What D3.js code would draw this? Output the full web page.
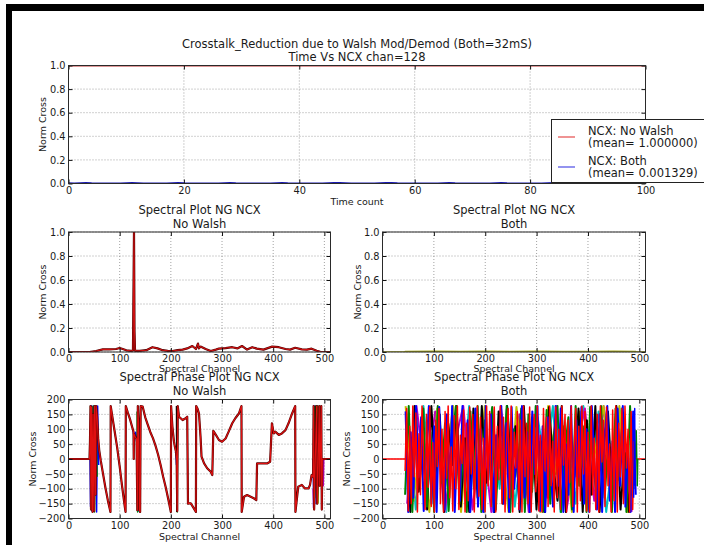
<!DOCTYPE html>
<html lang="en">
<head>
<meta charset="UTF-8">
<title>Crosstalk Reduction - Walsh Mod/Demod</title>
<script src="https://d3js.org/d3.v7.min.js"></script>
<style>
  body { margin: 0; background: #fff; }
  svg { display: block; font-family: "DejaVu Sans", sans-serif; }
</style>
</head>
<body>
<svg id="fig" width="704" height="545"></svg>
<script>
// ---- data ----
const timeTicks = [0, 20, 40, 60, 80, 100]
const normTicks = [0, 0.2, 0.4, 0.6, 0.8, 1.0]
const chanTicks = [0, 100, 200, 300, 400, 500]
const phaseTicks = [-200, -150, -100, -50, 0, 50, 100, 150, 200]

// time plot, chan 128
const timeCount = d3.range(0, 101)
const ncxNoWalsh = [1,1,1,1,1,1,1,1,1,1,1,1,1,1,1,1,1,1,1,1,1,1,1,1,1,1,1,1,1,1,1,1,1,1,1,1,1,1,1,1,1,1,1,1,1,1,1,1,1,1,
  1,1,1,1,1,1,1,1,1,1,1,1,1,1,1,1,1,1,1,1,1,1,1,1,1,1,1,1,1,1,1,1,1,1,1,1,1,1,1,1,1,1,1,1,1,1,1,1,1,1,1]
const ncxBoth = [0.002,0.001,0.004,0.005,0.002,0.001,0.0005,0.0005,0.001,0.001,0.004,0.005,0.004,0.001,0.0005,0.0005,0.0005,0.001,0.003,0.005,
  0.002,0.001,0.0005,0.0005,0.0005,0.0005,0.001,0.003,0.005,0.002,0.001,0.0005,0.0005,0.0005,0.0005,0.001,0.003,0.005,0.002,0.001,
  0.0005,0.0005,0.0005,0.0005,0.001,0.003,0.005,0.005,0.003,0.001,0.0005,0.0005,0.0005,0.001,0.003,0.005,0.005,0.002,0.001,0.0005,
  0.0005,0.0005,0.0005,0.0005,0.001,0.003,0.005,0.002,0.001,0.0005,0.0005,0.0005,0.0005,0.001,0.003,0.005,0.002,0.001,0.0005,0.0005,
  0.0005,0.0005,0.001,0.003,0.005,0.002,0.001,0.0005,0.0005,0.0005,0.0005,0.001,0.003,0.005,0.002,0.001,0.0005,0.0005,0.0005,0.001,0.001]
const legendMeans = ["1.000000", "0.001329"]

// amplitude spectrum, no walsh
const specNwCh  = [0, 41, 54, 67, 80, 93, 100, 106, 113, 122, 126, 128, 129, 130, 139, 152, 164, 174, 184, 194, 203, 213, 223, 232, 242, 249, 253, 255, 258, 268,
  278, 288, 294, 307, 320, 330, 339, 349, 359, 368, 381, 398, 411, 424, 433, 443, 456, 466, 475, 485, 492, 512]
const specNwVal = [0, 0, 0.008, 0.022, 0.022, 0.025, 0.033, 0.025, 0.014, 0.01, 0.012, 1.0, 0.17, 0.01, 0.01, 0.015, 0.04, 0.03, 0.015, 0.01, 0.008, 0.015, 0.02, 0.03, 0.05, 0.025, 0.07, 0.03, 0.045, 0.025,
  0.008, 0.02, 0.028, 0.033, 0.04, 0.03, 0.05, 0.02, 0.04, 0.028, 0.02, 0.045, 0.04, 0.025, 0.02, 0.035, 0.022, 0.02, 0.028, 0.01, 0.002, 0]

// amplitude spectrum, both
const specBothCh  = [0, 43, 44, 100, 150, 200, 250, 300, 350, 400, 450, 493, 494, 512]
const specBothVal = [0, 0, 0.004, 0.005, 0.004, 0.005, 0.004, 0.005, 0.004, 0.004, 0.005, 0.004, 0, 0]

// phase spectrum, no walsh (main trace)
const phaseNwCh = [0, 41, 42, 43, 44, 45, 47, 48, 50, 51, 53, 54, 56, 58, 60, 63, 67, 72, 77, 82, 82.5, 85, 90, 95, 100, 105, 110, 111.5,
  112, 116, 120, 124, 127, 127.5, 128, 131, 133, 134.5, 135.5, 137, 138.5, 140, 141, 145, 150, 155, 160, 165, 170, 175, 180, 185, 190, 195, 200,
  200.5, 203, 206, 208, 210, 211.5, 212.5, 213.5, 216, 223, 229, 232, 233.5, 236, 239, 245, 249, 249.5, 252, 255, 258, 260, 265, 271, 278, 281,
  283, 288, 294, 300, 307, 313, 320, 326, 333, 338, 338.5, 343, 349, 356, 362, 367, 368.5, 378, 388, 394, 397.5, 401, 404, 411, 417, 424, 430, 437, 443,
  443.5, 446, 449, 456, 462, 469, 472, 475, 478, 479, 480, 482, 485, 486, 488, 490, 491, 492, 494, 495, 496, 512]
const phaseNwVal = [0, 0, 60, 178, -170, 175, -178, 150, -175, 178, -120, 178, 140, 70, 30, -5, -45, -95, -140, -178, 178, 150, 95, 40, -25, -95, -160, -178,
  178, 155, 135, 110, 92, 0, 85, 72, 68, -172, 178, 120, -172, -178, 178, 176, 140, 115, 90, 70, 45, 15, -20, -60, -95, -135, -178,
  178, 110, 60, 40, 25, -5, -175, 178, 142, 131, 137, 142, -150, -149, -149, -166, -178, 178, 170, 153, 75, 8, -15, -31, -43, -54,
  95, 81, 64, 58, 69, 92, 120, 137, 153, 178, -178, -127, -121, -127, -132, -138, -15, -15, -15, -9, 120, 86, 92, 81, 86, 97, 120, 153, 178,
  -178, -138, -93, -87, -99, -99, -87, -54, -60, 178, -170, -26, 178, -150, -15, 178, -90, -3, 178, -170, 0, 0]

// phase spectrum, no walsh: other time samples showing at the wraps
const phaseNwExtra = [
  { color: "#0000ff", pts: [[42, 0], [43, -160], [45, 178], [46, -175], [49, 178], [50, -170], [52, 160], [55, -178], [57, 178], [59, -20]] },
  { color: "#0000ff", pts: [[126, 100], [129, 60], [131, 90], [133, 70]] },
  { color: "#0000ff", pts: [[209, 20], [210, 30], [211, -20]] },
  { color: "#0000ff", pts: [[478, 0], [479, -165], [481, 178], [484, -150], [486, 178], [489, -90]] },
  { color: "#008000", pts: [[44, 178], [46, -150], [48, 178], [51, -178], [53, 178], [56, -60]] },
  { color: "#008000", pts: [[134, 160], [135, -178], [136, 178]] },
  { color: "#008000", pts: [[212, 178], [212.5, -178], [213, 100]] },
  { color: "#008000", pts: [[480, 178], [481, -130], [483, 178], [485, -100], [487, 178], [490, -80]] },
  { color: "#00bfbf", pts: [[136, 178], [137, -178]] },
  { color: "#bfbf00", pts: [[43, 178], [45, 60]] },
  { color: "#bfbf00", pts: [[487, 178], [488, -150]] },
  { color: "#bf00bf", pts: [[478, -100], [479, -165], [480, 0]] },
  { color: "#bf00bf", pts: [[497, 0], [498, -90], [499, 0]] },
  { color: "#000000", pts: [[211, 178], [211.5, -178]] },
  { color: "#000000", pts: [[483, -80], [484, 178], [485, -100]] },
  { color: "#000000", pts: [[490, 178], [491, -85], [492, 0]] }
]

// phase spectrum, both: one wrapped noisy trace per colour
const phaseBoth = [
  { color: "#00bfbf", from: 50, to: 480, vals: [120, -170, 178, -90, 60, -178, 150, -130, 178, -40, -178, 170, -100, 178, -160, 80, -178, 140, -20, 178, -178, 100, -150, 178, -60, 160, -178, 30, 170, -120] },
  { color: "#bf00bf", from: 48, to: 485, vals: [-150, 178, -80, 160, -178, 40, 178, -170, 110, -178, 178, -60, 150, -178, 90, -130, 178, -178, 20, 170, -140, 178, -100, 130, -178] },
  { color: "#bfbf00", from: 45, to: 492, vals: [178, -140, 90, -178, 170, -30, 178, -178, 130, -100, 178, -160, 60, -178, 175, -80, 150, -178, 178, -50, 110, -178, 160, -170, 40, 178, -130, 178, -178, 100] },
  { color: "#000000", from: 46, to: 488, vals: [90, -178, 178, -110, 40, -170, 178, -60, 150, -178, 120, -20, 178, -160, 70, -178, 170, -130, 178, -80,
    30, -178, 160, -150, 178, -40, 110, -178, 178, -100, 140, -170, 60, -178, 175, -20, -140, 178, -178, 90,
    -60, 170, -178, 130, -120, 178, -178, 50, 160, -90, 178, -170, 20, -178, 140] },
  { color: "#008000", from: 44, to: 489, vals: [-120, 178, -178, 140, -40, 170, -160, 90, -178, 178, -80, 120, -175, 60, 178, -150, 10, -178, 160, -100,
    178, -178, 130, -20, 175, -170, 70, -130, 178, -178, 100, -60, 170, -178, 150, -110, 178, -40, -178, 165,
    -150, 80, 178, -178, 20, 140, -170, 178, -90, 110, -178, 175, -30, -160, 178, -130, 60, -178, 170, -70,
    150, -178, 178, -100] },
  { color: "#0000ff", from: 45, to: 493, vals: [160, -178, 90, -130, 178, -60, 140, -175, 30, 178, -150, 110, -178, 175, -20, -170, 150, -90, 178, -178,
    60, -140, 178, -110, 130, -178, 20, 170, -160, 100, -178, 178, -70, 150, -178, 80, -30, 178, -150, 120,
    -178, 175, -100, 40, -170, 178, -130, 90, -178, 160, -50, 178, -175, 110, -178, 140, -20, -160, 178, -90,
    170, -178, 50, -120, 178, -178, 130, -60, 175, -150, 100, -178, 178, -10, -170, 150, -178, 80, 178, -140,
    60, -178, 170, -90, 178, -160, 30, -178, 160, -120] },
  { color: "#ff0000", from: 44, to: 490, vals: [-40, 170, -175, 110, -150, 178, -60, 155, -178, 85, -120, 178, 15, -170, 150, -95, 175, -160, 55, -178,
    130, -25, 170, -150, 100, -178, 160, -65, 178, -130, 40, -175, 145, -100, 178, -170, 80, -15, 165, -178,
    120, -140, 175, -50, 150, -178, 30, 178, -125, 140, -170, 70, -178, 178, -90, 160, -160, 10, 175, -178,
    110, -70, 178, -150, 140, -178, 50, 170, -130, 178, -178, 90, -30, 160, -170, 130, -178, 178, -60, 120,
    -150, 175, -178, 20, 150, -110, 178, -175, 80, -178, 170, -40, 140, -160, 178, -90, 60, -178, 175, -130,
    100, -170, 178, -20, 150, -178, 130, -80, 178, -160, 40, 170, -178, 110, -140, 178, -50, 160, -175, 90,
    -178, 178, -120, 70, -170, 150, -178, 178, -10, 130, -160, 175, -90, 50, -178, 165, -140, 178, -178, 120,
    -60, 170, -150, 178, -30, 100, -178, 160, -170, 60] }
]
const phaseBothEdges = [
  { color: "#ff0000", pts: [[0, 0], [44, 0]] },
  { color: "#ff0000", pts: [[490, 0], [512, 0]] },
  { color: "#008000", pts: [[492, 0], [494, 95], [496, -90], [497, 0]] },
  { color: "#0000ff", pts: [[489, -130], [491, 170], [492, -90]] }
]

// ---- drawing ----
const svg = d3.select("#fig")
svg.append("rect").attr("width", 704).attr("height", 545).attr("fill", "#fff")
// window frame from the screenshot
svg.append("rect").attr("x", 6).attr("y", 4).attr("width", 698).attr("height", 7).attr("fill", "#000")
svg.append("rect").attr("x", 6).attr("y", 4).attr("width", 6).attr("height", 541).attr("fill", "#000")

let clipCount = 0

function panel(box, xDomain, yDomain, xTicks, yTicks) {
  const x = d3.scaleLinear().domain(xDomain).range([box.left, box.right])
  const y = d3.scaleLinear().domain(yDomain).range([box.bottom, box.top])
  const g = svg.append("g")
  g.append("g").selectAll("line").data(xTicks).join("line")
    .attr("x1", d => x(d)).attr("x2", d => x(d))
    .attr("y1", box.top).attr("y2", box.bottom)
  g.append("g").selectAll("line").data(yTicks).join("line")
    .attr("x1", box.left).attr("x2", box.right)
    .attr("y1", d => y(d)).attr("y2", d => y(d))
  g.selectAll("line").attr("stroke", "#8a8a8a").attr("stroke-width", 0.8).attr("stroke-dasharray", "1,2")

  const id = "clip" + (clipCount++)
  svg.append("clipPath").attr("id", id).append("rect")
    .attr("x", box.left).attr("y", box.top)
    .attr("width", box.right - box.left).attr("height", box.bottom - box.top)
  const plot = g.append("g").attr("clip-path", `url(#${id})`)
  return { x, y, g, plot, box }
}

function frame(p, xTicks, yTicks, xFmt, yFmt) {
  const { x, y, g, box } = p
  const axes = [
    g.append("g").attr("transform", `translate(0,${box.bottom})`)
      .call(d3.axisBottom(x).tickValues(xTicks).tickFormat(xFmt).tickSize(-4).tickPadding(3.5)),
    g.append("g").attr("transform", `translate(0,${box.top})`)
      .call(d3.axisTop(x).tickValues(xTicks).tickFormat("").tickSize(-4)),
    g.append("g").attr("transform", `translate(${box.left},0)`)
      .call(d3.axisLeft(y).tickValues(yTicks).tickFormat(yFmt).tickSize(-4).tickPadding(3)),
    g.append("g").attr("transform", `translate(${box.right},0)`)
      .call(d3.axisRight(y).tickValues(yTicks).tickFormat("").tickSize(-4))
  ]
  axes.forEach(a => {
    a.attr("font-size", 9.8).attr("font-family", null)
    a.select(".domain").remove()
    a.selectAll(".tick line").attr("stroke", "#111")
    a.selectAll(".tick text").attr("fill", "#1a1a1a")
  })
  g.append("rect")
    .attr("x", box.left).attr("y", box.top)
    .attr("width", box.right - box.left).attr("height", box.bottom - box.top)
    .attr("fill", "none").attr("stroke", "#2a2a2a").attr("stroke-width", 1)
}

function drawLine(p, pts, color, width) {
  p.plot.append("path")
    .datum(pts)
    .attr("fill", "none")
    .attr("stroke", color)
    .attr("stroke-width", width)
    .attr("stroke-linejoin", "round")
    .attr("d", d3.line().x(d => p.x(d[0])).y(d => p.y(d[1])))
}

function text(str, x, y, size, opts = {}) {
  const t = svg.append("text")
    .attr("x", x).attr("y", y)
    .attr("font-size", size)
    .attr("fill", "#1a1a1a")
    .attr("text-anchor", opts.anchor || "middle")
    .text(str)
  if (opts.rotate) t.attr("transform", `rotate(-90,${x},${y})`)
  return t
}

const fmt1 = d3.format(".1f")
const fmt0 = d3.format("d")
const zip = (xs, ys) => xs.map((v, i) => [v, ys[i]])

// --- top: time vs NCX ---
const pTime = panel({ left: 68.5, right: 645.5, top: 65.5, bottom: 183.5 }, [0, 100], [0, 1], timeTicks, normTicks)
drawLine(pTime, zip(timeCount, ncxNoWalsh), "#c03030", 2)
drawLine(pTime, zip(timeCount, ncxBoth), "#1a1ab0", 1.8)
frame(pTime, timeTicks, normTicks, fmt0, fmt1)

// --- middle: amplitude spectra ---
const pSpecNw = panel({ left: 68.5, right: 330.5, top: 232, bottom: 352 }, [0, 512], [0, 1], chanTicks, normTicks)
drawLine(pSpecNw, zip(specNwCh, specNwVal), "#500000", 2.2)
drawLine(pSpecNw, zip(specNwCh, specNwVal), "#d01010", 1.1)
frame(pSpecNw, chanTicks, normTicks, fmt0, fmt1)

const pSpecBoth = panel({ left: 382.5, right: 645.5, top: 232, bottom: 352 }, [0, 512], [0, 1], chanTicks, normTicks)
drawLine(pSpecBoth, zip(specBothCh, specBothVal), "#a0a010", 1.6)
frame(pSpecBoth, chanTicks, normTicks, fmt0, fmt1)

// --- bottom: phase spectra ---
const pPhNw = panel({ left: 68.5, right: 330.5, top: 399.5, bottom: 518.5 }, [0, 512], [-200, 200], chanTicks, phaseTicks)
phaseNwExtra.forEach(s => drawLine(pPhNw, s.pts, s.color, 1.4))
drawLine(pPhNw, zip(phaseNwCh, phaseNwVal), "#5a0000", 2.2)
drawLine(pPhNw, zip(phaseNwCh, phaseNwVal), "#e01010", 1.1)
frame(pPhNw, chanTicks, phaseTicks, fmt0, fmt0)

const pPhBoth = panel({ left: 382.5, right: 645.5, top: 399.5, bottom: 518.5 }, [0, 512], [-200, 200], chanTicks, phaseTicks)
phaseBoth.forEach(s => {
  const step = (s.to - s.from) / (s.vals.length - 1)
  drawLine(pPhBoth, s.vals.map((v, i) => [s.from + i * step, v]), s.color, s.color === "#ff0000" ? 1.5 : 2)
})
phaseBothEdges.forEach(s => drawLine(pPhBoth, s.pts, s.color, 1.4))
frame(pPhBoth, chanTicks, phaseTicks, fmt0, fmt0)

// --- titles and labels ---
text("Crosstalk_Reduction due to Walsh Mod/Demod (Both=32mS)", 357, 48, 11.5)
text("Time Vs NCX chan=128", 357, 61, 11.5)
text("Time count", 357, 204.5, 9.5)
text("Norm Cross", 45.5, 124.5, 9.5, { rotate: true })

text("Spectral Plot NG NCX", 199.5, 214, 11.5)
text("No Walsh", 199.5, 227.5, 11.5)
text("Spectral Plot NG NCX", 514, 214, 11.5)
text("Both", 514, 227.5, 11.5)
text("Norm Cross", 45.5, 292, 9.5, { rotate: true })
text("Norm Cross", 360.5, 292, 9.5, { rotate: true })
text("Spectral Channel", 199.5, 371.5, 9.5)
text("Spectral Channel", 514, 371.5, 9.5)

text("Spectral Phase Plot NG NCX", 199.5, 381, 11.5)
text("No Walsh", 199.5, 395, 11.5)
text("Spectral Phase Plot NG NCX", 514, 381, 11.5)
text("Both", 514, 395, 11.5)
text("Norm Cross", 35.5, 459, 9.5, { rotate: true })
text("Norm Cross", 349.5, 459, 9.5, { rotate: true })
text("Spectral Channel", 199.5, 540, 9.5)
text("Spectral Channel", 514, 540, 9.5)

// --- legend on the time plot ---
const legendItems = [
  { color: "#e03030", lines: ["NCX: No Walsh", "(mean= " + legendMeans[0] + ")"] },
  { color: "#3030e0", lines: ["NCX: Both", "(mean= " + legendMeans[1] + ")"] }
]
const leg = svg.append("g")
leg.append("rect").attr("x", 551.5).attr("y", 119.5).attr("width", 154).attr("height", 63)
  .attr("fill", "#fff").attr("stroke", "#222").attr("stroke-width", 1)
legendItems.forEach((it, i) => {
  const cy = 137 + i * 30
  leg.append("line").attr("x1", 558).attr("x2", 575).attr("y1", cy).attr("y2", cy)
    .attr("stroke", it.color).attr("stroke-width", 1.4).attr("stroke-opacity", 0.75)
  it.lines.forEach((l, j) => {
    leg.append("text").attr("x", 588).attr("y", cy - 2.5 + j * 12.6)
      .attr("font-size", 11.5).attr("fill", "#1a1a1a").text(l)
  })
})
</script>
</body>
</html>
